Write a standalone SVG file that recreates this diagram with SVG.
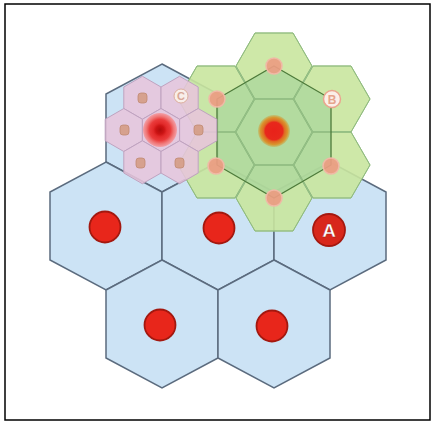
<svg xmlns="http://www.w3.org/2000/svg" xmlns:xlink="http://www.w3.org/1999/xlink" width="434" height="423" viewBox="0 0 434 423">
<style>
.blue{fill:#cce3f5;stroke:#5b6b7e;stroke-width:1.5}
.bdot{fill:#e8261b;stroke:#a3180f;stroke-width:1.8}
.pink{fill:#e7c5dc;fill-opacity:0.88;stroke:#bfa3c0;stroke-width:1}
.pdot{fill:#d39a80;fill-opacity:0.85;stroke:#c08a72;stroke-width:0.8}
.green{fill:#c9e59f;fill-opacity:0.9;stroke:#a3c78a;stroke-width:1}
.gline{fill:none;stroke:#8fbb80;stroke-width:1}
.gdot{fill:#ec9c82;fill-opacity:0.92;stroke:#f0b9a6;stroke-width:1.5}
.conn{fill:none;stroke:#4d7a3a;stroke-width:1.3}
.lbl{font-family:"Liberation Sans",Arial,sans-serif;font-weight:bold;text-anchor:middle}
</style>
<defs>
<polygon id="bighex" points="0,-64 56,-34 56,34 0,64 -56,34 -56,-34"/>
<polygon id="phex" points="0,-21.5 18.6,-10.75 18.6,10.75 0,21.5 -18.6,10.75 -18.6,-10.75"/>
<polygon id="ghex" points="38,0 19,-33 -19,-33 -38,0 -19,33 19,33"/>
<radialGradient id="pcore">
<stop offset="0" stop-color="#b00c0c"/>
<stop offset="0.25" stop-color="#cc1414"/>
<stop offset="0.4" stop-color="#e22a2a"/>
<stop offset="0.62" stop-color="#ea3c3c"/>
<stop offset="0.8" stop-color="#f07474"/>
<stop offset="1" stop-color="#f2a0a8"/>
</radialGradient>
<radialGradient id="gcore">
<stop offset="0" stop-color="#e8221a"/>
<stop offset="0.55" stop-color="#e8281c"/>
<stop offset="0.66" stop-color="#df6a22"/>
<stop offset="0.85" stop-color="#d9952e"/>
<stop offset="1" stop-color="#c8aa50" stop-opacity="0.5"/>
</radialGradient>
</defs>
<rect x="0" y="0" width="434" height="423" fill="#ffffff"/>
<rect x="5" y="4" width="425" height="416" fill="none" stroke="#000" stroke-width="1.5"/>

<g id="cell-top"><use xlink:href="#bighex" class="blue" transform="translate(162,128)"/></g>
<g id="cell-r1-left"><use xlink:href="#bighex" class="blue" transform="translate(106,226)"/><circle class="bdot" cx="105" cy="227" r="15.5"/></g>
<g id="cell-r1-mid"><use xlink:href="#bighex" class="blue" transform="translate(218,226)"/><circle class="bdot" cx="219" cy="228" r="15.5"/></g>
<g id="cell-r1-right"><use xlink:href="#bighex" class="blue" transform="translate(330,226)"/></g>
<g id="cell-r2-left"><use xlink:href="#bighex" class="blue" transform="translate(162,324)"/><circle class="bdot" cx="160" cy="325" r="15.5"/></g>
<g id="cell-r2-right"><use xlink:href="#bighex" class="blue" transform="translate(274,324)"/><circle class="bdot" cx="272" cy="326" r="15.5"/></g>

<g id="green-cluster">
<use xlink:href="#ghex" class="green" transform="translate(274,66)"/>
<use xlink:href="#ghex" class="green" transform="translate(332,99)"/>
<use xlink:href="#ghex" class="green" transform="translate(332,165)"/>
<use xlink:href="#ghex" class="green" transform="translate(274,198)"/>
<use xlink:href="#ghex" class="green" transform="translate(216,165)"/>
<use xlink:href="#ghex" class="green" transform="translate(216,99)"/>
<use xlink:href="#ghex" class="green" transform="translate(274,132)"/>
<polygon points="274,66 331,99 331,165 274,198 217,165 217,99" fill="#9ccf98" fill-opacity="0.55"/>
<use xlink:href="#ghex" class="gline" transform="translate(274,66)"/>
<use xlink:href="#ghex" class="gline" transform="translate(332,99)"/>
<use xlink:href="#ghex" class="gline" transform="translate(332,165)"/>
<use xlink:href="#ghex" class="gline" transform="translate(274,198)"/>
<use xlink:href="#ghex" class="gline" transform="translate(216,165)"/>
<use xlink:href="#ghex" class="gline" transform="translate(216,99)"/>
<use xlink:href="#ghex" class="gline" transform="translate(274,132)"/>
</g>

<g id="connectors">
<polygon class="conn" points="274,66 331,99 331,165 274,198 217,165 217,99"/>
</g>

<g id="green-center"><circle cx="274" cy="131" r="16" fill="url(#gcore)"/></g>
<g id="green-dot-top"><circle class="gdot" cx="274" cy="66" r="8"/></g>
<g id="green-dot-b"><circle cx="332" cy="99" r="8.5" fill="#fbefe8" stroke="#eaa58e" stroke-width="1.5"/><text class="lbl" x="332" y="103.5" font-size="12" fill="#e6a48c">B</text></g>
<g id="green-dot-r"><circle class="gdot" cx="331" cy="166" r="8"/></g>
<g id="green-dot-bottom"><circle class="gdot" cx="274" cy="198" r="8"/></g>
<g id="green-dot-l"><circle class="gdot" cx="216" cy="166" r="8"/></g>
<g id="green-dot-ul"><circle class="gdot" cx="217" cy="99" r="8"/></g>

<g id="pink-cluster">
<use xlink:href="#phex" class="pink" transform="translate(142.4,97.75)"/>
<use xlink:href="#phex" class="pink" transform="translate(179.6,97.75)"/>
<use xlink:href="#phex" class="pink" transform="translate(123.8,130)"/>
<use xlink:href="#phex" class="pink" transform="translate(161,130)"/>
<use xlink:href="#phex" class="pink" transform="translate(198.2,130)"/>
<use xlink:href="#phex" class="pink" transform="translate(142.4,162.25)"/>
<use xlink:href="#phex" class="pink" transform="translate(179.6,162.25)"/>
<rect class="pdot" x="138" y="93" width="9" height="10" rx="3"/>
<rect class="pdot" x="120" y="125" width="9" height="10" rx="3"/>
<rect class="pdot" x="194" y="125" width="9" height="10" rx="3"/>
<rect class="pdot" x="136" y="158" width="9" height="10" rx="3"/>
<rect class="pdot" x="175" y="158" width="9" height="10" rx="3"/>
<circle cx="181" cy="96" r="7" fill="#f8eeea" stroke="#dcae9e" stroke-width="1"/>
<text class="lbl" x="181" y="100" font-size="11" font-weight="normal" fill="#d8a898">C</text>
<circle cx="160" cy="130" r="17" fill="url(#pcore)"/>
</g>

<g id="cell-a"><circle cx="329" cy="230" r="16" fill="#d8271b" stroke="#a5180f" stroke-width="1.8"/><text class="lbl" x="329" y="237" font-size="19" fill="#ffffff" stroke="#9a1a12" stroke-width="0.4">A</text></g>
</svg>
